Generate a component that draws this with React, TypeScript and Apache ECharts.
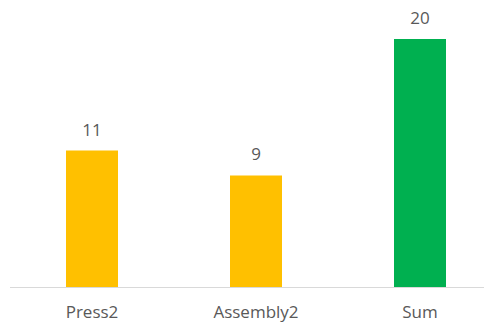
import React, { useEffect, useRef } from "react";
import * as echarts from "echarts";

const categories = ["Press2", "Assembly2", "Sum"];
const values = [11, 9, 20];
const barColors = ["#FFC000", "#FFC000", "#00B050"];

export default function App() {
  const ref = useRef<HTMLDivElement>(null);
  useEffect(() => {
    if (!ref.current) return;
    const chart = echarts.init(ref.current, null, { renderer: "svg" });
    chart.setOption({
      animation: false,
      backgroundColor: "#ffffff",
      grid: { left: 92, width: 328, top: 39, bottom: 40, containLabel: false },
      xAxis: {
        type: "category",
        data: categories,
        boundaryGap: false,
        axisLine: { show: false },
        axisTick: { show: false },
        axisLabel: {
          color: "#595959",
          fontSize: 17,
          fontFamily: "Open Sans",
          margin: 16,
        },
      },
      yAxis: {
        type: "value",
        min: 0,
        max: 20,
        show: false,
        splitLine: { show: false },
      },
      graphic: [
        {
          type: "line",
          shape: { x1: 10, y1: 287.5, x2: 484, y2: 287.5 },
          style: { stroke: "#D9D9D9", lineWidth: 1 },
        },
      ],
      series: [
        {
          type: "bar",
          barWidth: 52,
          data: values.map((v, i) => ({ value: v, itemStyle: { color: barColors[i] } })),
          label: {
            show: true,
            position: "top",
            distance: 13,
            color: "#595959",
            fontSize: 17,
            fontFamily: "Open Sans",
          },
        },
      ],
    });
    return () => chart.dispose();
  }, []);
  return (
    <div
      ref={ref}
      style={{ position: "fixed", left: 0, top: 0, width: 494, height: 327 }}
    />
  );
}
